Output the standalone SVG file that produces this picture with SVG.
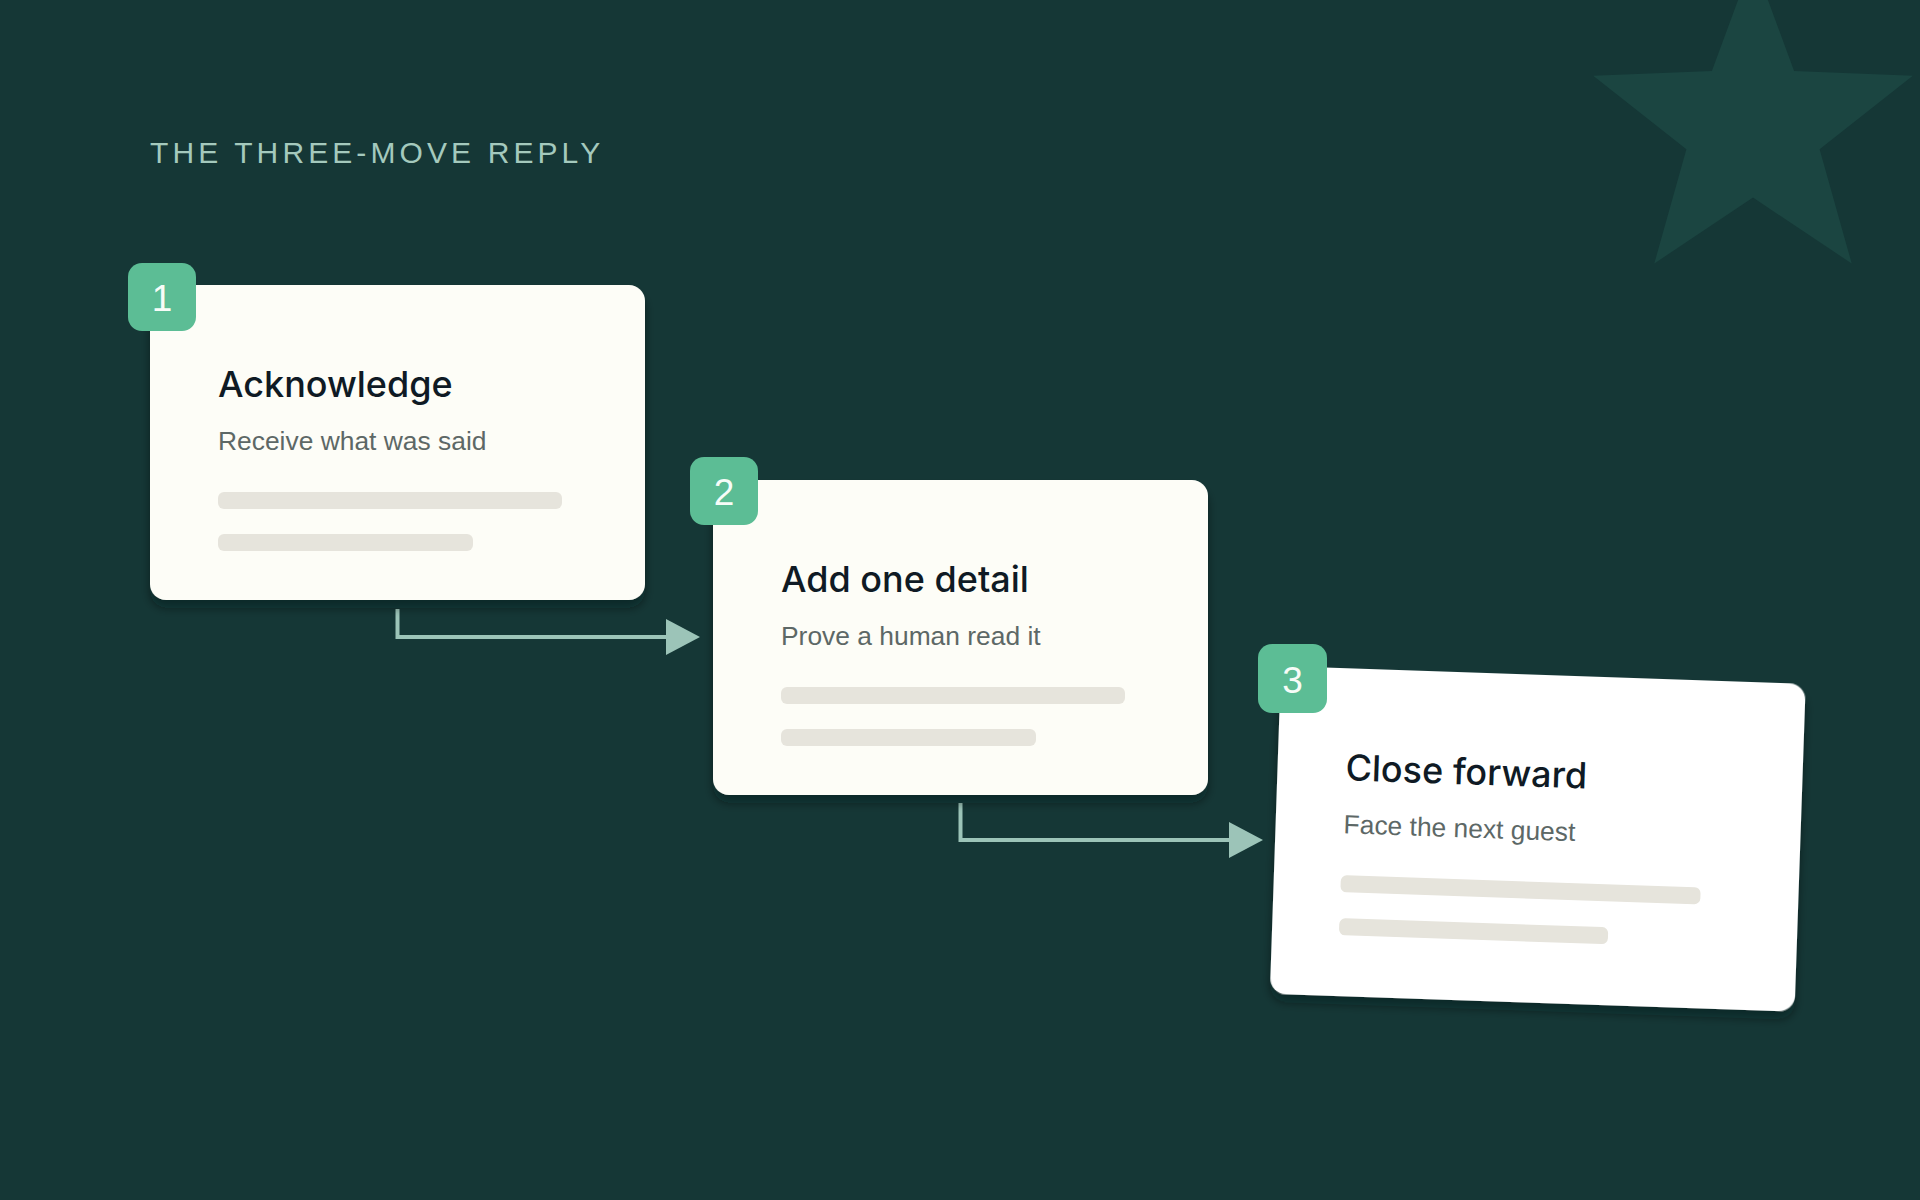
<svg xmlns="http://www.w3.org/2000/svg" width="1920" height="1200" viewBox="0 0 1920 1200">
  <defs>
    <style>
      .eyebrow { font-family: "Liberation Sans", Arial, sans-serif; font-size: 30px; letter-spacing: 4.1px; fill: #a4c9bd; }
      .card { fill: #fdfdf7; }
      .card3 { fill: #ffffff; }
      .badge { fill: #5cbd95; }
      .num { font-family: "Liberation Sans", Arial, sans-serif; font-size: 37px; fill: #f7fcf8; text-anchor: middle; }
      .title { font-family: Inter, "Liberation Sans", Arial, sans-serif; font-weight: 500; font-size: 36px; fill: #0f1a24; }
      .sub { font-family: "Liberation Sans", Arial, sans-serif; font-size: 26.4px; fill: #5d6866; }
      .bar { fill: #e6e4dc; }
      .conn { fill: none; stroke: #9cc4b8; stroke-width: 4; }
    </style>
    <filter id="shadow" x="-10%" y="-10%" width="120%" height="130%">
      <feDropShadow dx="0" dy="8" stdDeviation="5" flood-color="#07191a" flood-opacity="0.45"/>
    </filter>
    <marker id="arrow" viewBox="0 0 36 36" refX="2" refY="18" markerWidth="36" markerHeight="36" markerUnits="userSpaceOnUse" orient="auto">
      <path d="M2 0 L36 18 L2 36 Z" fill="#9cc4b8"/>
    </marker>
  </defs>

  <rect x="0" y="0" width="1920" height="1200" fill="#153736"/>

  <polygon id="star" fill="#1b4541" points="1753,-40.4 1794.1,71 1912.8,75.7 1819.6,149.2 1851.7,263.5 1753,197.6 1654.3,263.5 1686.4,149.2 1593.2,75.7 1711.9,71"/>

  <text class="eyebrow" x="150" y="163">THE THREE-MOVE REPLY</text>

  <g id="connectors">
    <path class="conn" d="M397.5 609 V637 H666" marker-end="url(#arrow)"/>
    <path class="conn" d="M960.5 803 V840 H1229" marker-end="url(#arrow)"/>
  </g>

  <g id="node-1">
    <rect class="card" x="150" y="285" width="495" height="315" rx="16" filter="url(#shadow)"/>
    <text class="title" x="218" y="397">Acknowledge</text>
    <text class="sub" x="218" y="450">Receive what was said</text>
    <rect class="bar" x="218" y="492" width="344" height="17" rx="6"/>
    <rect class="bar" x="218" y="534" width="255" height="17" rx="6"/>
    <rect class="badge" x="128" y="263" width="68" height="68" rx="14"/>
    <text class="num" x="162" y="311">1</text>
  </g>

  <g id="node-2">
    <rect class="card" x="713" y="480" width="495" height="315" rx="16" filter="url(#shadow)"/>
    <text class="title" x="781" y="592">Add one detail</text>
    <text class="sub" x="781" y="645">Prove a human read it</text>
    <rect class="bar" x="781" y="687" width="344" height="17" rx="6"/>
    <rect class="bar" x="781" y="729" width="255" height="17" rx="6"/>
    <rect class="badge" x="690" y="457" width="68" height="68" rx="14"/>
    <text class="num" x="724" y="505">2</text>
  </g>

  <g id="node-3">
    <g transform="translate(1281 666) rotate(1.95)">
      <rect class="card3" x="0" y="0" width="525" height="328" rx="16" filter="url(#shadow)"/>
      <text class="title" x="68" y="112">Close forward</text>
      <text class="sub" x="68" y="165">Face the next guest</text>
      <rect class="bar" x="67" y="207" width="360" height="17" rx="6"/>
      <rect class="bar" x="67" y="250" width="269" height="17" rx="6"/>
    </g>
    <rect class="badge" x="1258" y="644" width="69" height="69" rx="14"/>
    <text class="num" x="1292.5" y="693">3</text>
  </g>
</svg>
